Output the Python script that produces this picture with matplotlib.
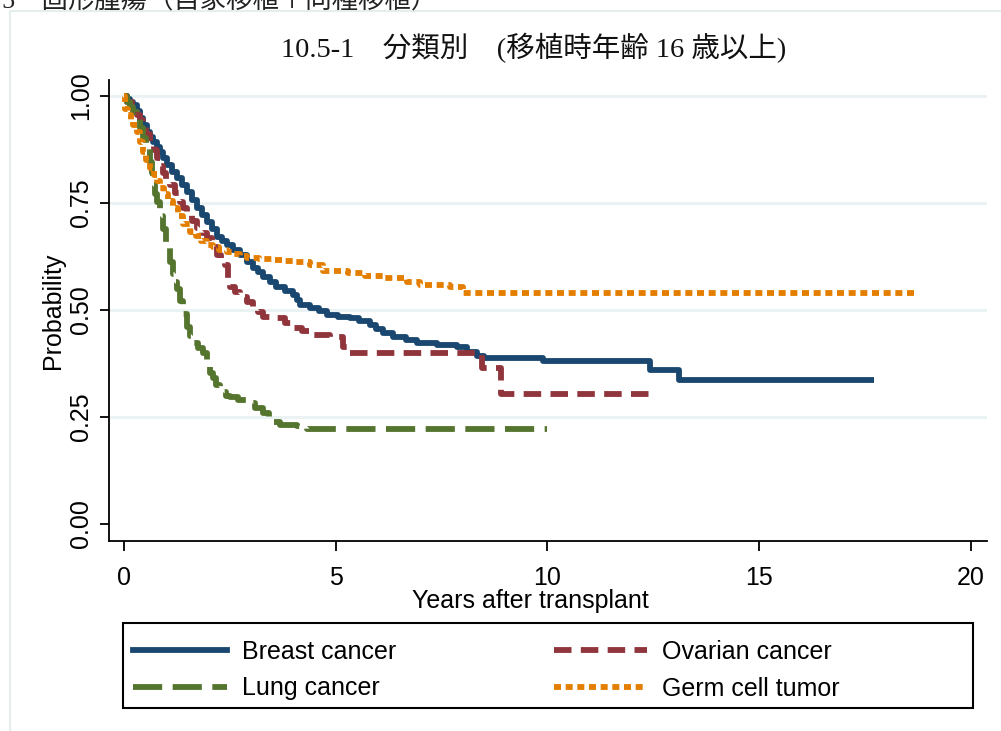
import matplotlib
matplotlib.use("Agg")
import matplotlib.pyplot as plt
from matplotlib.lines import Line2D
from matplotlib.patches import Rectangle

# Kaplan-Meier estimates (step functions)
breast_t = [0, 0.08, 0.15, 0.21, 0.3, 0.38, 0.46, 0.54, 0.62, 0.69, 0.77, 0.85, 0.93, 1.01, 1.13,
            1.25, 1.36, 1.48, 1.6, 1.72, 1.84, 1.96, 2.08, 2.19, 2.31, 2.43, 2.58, 2.74, 2.9, 3.05,
            3.17, 3.28, 3.44, 3.6, 3.8, 4.0, 4.08, 4.16, 4.4, 4.6, 4.8, 5.05, 5.34, 5.55, 5.8,
            5.96, 6.12, 6.36, 6.65, 6.93, 7.4, 7.87, 8.1, 8.33, 8.49, 9.9, 12.43, 13.1, 17.7]
breast_s = [1.0, 0.993, 0.985, 0.979, 0.964, 0.949, 0.932, 0.916, 0.905, 0.893, 0.881, 0.869,
            0.854, 0.839, 0.823, 0.808, 0.792, 0.776, 0.757, 0.738, 0.722, 0.706, 0.688, 0.671,
            0.661, 0.652, 0.640, 0.629, 0.613, 0.598, 0.588, 0.577, 0.565, 0.554, 0.545, 0.535,
            0.523, 0.512, 0.505, 0.497, 0.488, 0.484, 0.481, 0.473, 0.465, 0.455, 0.446, 0.437,
            0.430, 0.423, 0.418, 0.414, 0.402, 0.393, 0.388, 0.381, 0.36, 0.337, 0.337]

ovarian_t = [0, 0.07, 0.18, 0.3, 0.38, 0.45, 0.53, 0.61, 0.7, 0.78, 0.85, 0.92, 1.0, 1.09, 1.2,
             1.32, 1.4, 1.49, 1.6, 1.73, 1.85, 1.96, 2.08, 2.2, 2.3, 2.38, 2.46, 2.5, 2.62, 2.74,
             2.9, 3.05, 3.17, 3.29, 3.6, 3.8, 4.0, 4.2, 4.4, 4.87, 5.18, 5.34, 8.45, 8.9, 12.43]
ovarian_s = [1.0, 0.985, 0.97, 0.955, 0.943, 0.932, 0.912, 0.893, 0.874, 0.855, 0.837, 0.82,
             0.806, 0.792, 0.772, 0.752, 0.737, 0.722, 0.707, 0.692, 0.68, 0.668, 0.648, 0.629,
             0.617, 0.605, 0.57, 0.554, 0.542, 0.531, 0.519, 0.507, 0.495, 0.484, 0.481, 0.47,
             0.458, 0.45, 0.442, 0.437, 0.414, 0.40, 0.364, 0.304, 0.304]

lung_t = [0, 0.07, 0.15, 0.22, 0.3, 0.38, 0.45, 0.53, 0.61, 0.65, 0.69, 0.74, 0.78, 0.85, 0.92,
          1.0, 1.09, 1.15, 1.2, 1.26, 1.32, 1.4, 1.49, 1.56, 1.63, 1.75, 1.87, 1.95, 2.03, 2.1,
          2.18, 2.27, 2.4, 2.5, 2.7, 2.9, 3.1, 3.29, 3.42, 3.52, 3.69, 4.09, 4.33, 10.0]
lung_s = [1.0, 0.985, 0.975, 0.963, 0.945, 0.925, 0.902, 0.875, 0.846, 0.82, 0.792, 0.77, 0.752,
          0.72, 0.69, 0.65, 0.612, 0.585, 0.565, 0.55, 0.52, 0.49, 0.46, 0.44, 0.423, 0.41, 0.40,
          0.38, 0.353, 0.34, 0.325, 0.308, 0.30, 0.297, 0.29, 0.283, 0.27, 0.259, 0.245, 0.238,
          0.231, 0.229, 0.222, 0.222]

germ_t = [0, 0.03, 0.1, 0.17, 0.22, 0.3, 0.38, 0.45, 0.53, 0.61, 0.7, 0.78, 0.85, 0.95, 1.05,
          1.16, 1.27, 1.4, 1.56, 1.7, 1.83, 1.96, 2.1, 2.25, 2.43, 2.6, 2.75, 2.9, 3.2, 3.52,
          3.76, 4.0, 4.4, 4.7, 5.3, 5.7, 6.12, 6.69, 7.0, 7.7, 8.0, 18.7]
germ_s = [1.0, 0.97, 0.955, 0.943, 0.932, 0.915, 0.893, 0.869, 0.85, 0.832, 0.815, 0.80, 0.785,
          0.77, 0.755, 0.738, 0.72, 0.70, 0.682, 0.672, 0.661, 0.652, 0.646, 0.641, 0.636, 0.631,
          0.626, 0.621, 0.619, 0.617, 0.614, 0.612, 0.605, 0.59, 0.586, 0.58, 0.575, 0.565,
          0.558, 0.553, 0.539, 0.539]

labels = ["Breast cancer", "Ovarian cancer", "Lung cancer", "Germ cell tumor"]
colors = ["#1a476f", "#90353b", "#55752f", "#e37e00"]
styles = ["-", (0, (3.0, 1.6)), (0, (5.0, 1.8)), (0, (1.2, 0.8))]
yticks = [0, 0.25, 0.5, 0.75, 1.0]
xticks = [0, 5, 10, 15, 20]

plt.rcParams["font.family"] = ["Liberation Sans", "DejaVu Sans"]
serif_jp = ["Liberation Serif", "Noto Sans CJK JP"]

fig = plt.figure(figsize=(10.01, 7.31), dpi=100)
ax = fig.add_axes([109 / 1001, 1 - 541 / 731, (987 - 109) / 1001, (541 - 80) / 731])

series = [(breast_t, breast_s), (ovarian_t, ovarian_s), (lung_t, lung_s), (germ_t, germ_s)]
for (t, s), c, ls in zip(series, colors, styles):
    ax.plot(t, s, drawstyle="steps-post", color=c, lw=4.2, linestyle=ls,
            dash_capstyle="butt", solid_capstyle="butt")

ax.set_xlim(-0.354, 20.38)
ax.set_ylim(-0.0397, 1.037)
ax.set_xticks(xticks)
ax.set_yticks(yticks)
ax.set_yticklabels(["0.00", "0.25", "0.50", "0.75", "1.00"], rotation=90, va="center")
for y in yticks[1:]:
    ax.axhline(y, color="#eaf2f3", lw=2.2, zorder=0)
ax.spines["top"].set_visible(False)
ax.spines["right"].set_visible(False)
ax.spines["left"].set_linewidth(1.3)
ax.spines["bottom"].set_linewidth(1.3)
ax.tick_params(axis="y", length=6.5, width=1.3, labelsize=18, pad=5)
ax.tick_params(axis="x", length=7, width=1.3, labelsize=18, pad=11)
ax.set_xlabel("Years after transplant", fontsize=18, labelpad=0)
ax.xaxis.set_label_coords((530 - 109) / 878, -0.105)
ax.set_ylabel("Probability", fontsize=18, labelpad=3)

# legend (two columns, row-wise like the reference)
handles = [Line2D([], [], color=c, lw=4.2, linestyle=ls, dash_capstyle="butt") for c, ls in zip(colors, styles)]
order = [0, 2, 1, 3]
fig.legend([handles[i] for i in order], [labels[i] for i in order], ncol=2, frameon=False,
           loc="upper left", bbox_to_anchor=(133 / 1001, 1 - 640 / 731),
           fontsize=18, handlelength=3.75, handletextpad=0.6, columnspacing=6.3,
           labelspacing=0.5, borderaxespad=0, borderpad=0)
fig.patches.append(Rectangle((123 / 1001, 1 - 708 / 731), 850 / 1001, 85 / 731,
                             transform=fig.transFigure, fill=False, edgecolor="black", lw=1.5))

# titles / page decoration
fig.text(534 / 1001, 1 - 48 / 731, "10.5-1　分類別　(移植時年齢 16 歳以上)",
         fontsize=20.5, family=serif_jp, ha="center", va="center", color="#111111")
fig.text(2 / 1001, 1 - 1 / 731, "5　固形腫瘍（自家移植＋同種移植）",
         fontsize=19, family=serif_jp, ha="left", va="center", color="#222222")
fig.add_artist(Line2D([10 / 1001, 1], [1 - 11 / 731] * 2, transform=fig.transFigure,
                      color="#e6eeed", lw=1.5))
fig.add_artist(Line2D([10 / 1001] * 2, [0, 1 - 11 / 731], transform=fig.transFigure,
                      color="#e6eeed", lw=1.5))

fig.savefig("out.png", dpi=100, facecolor="white")
